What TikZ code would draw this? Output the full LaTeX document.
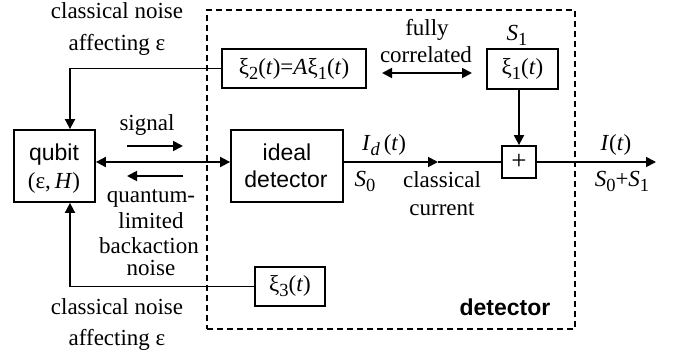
\documentclass[tikz,border=0pt]{standalone}
\usepackage{fontspec}
\setmainfont{Liberation Serif}
\setsansfont{Liberation Sans}
\usetikzlibrary{arrows.meta,calc}
% lowered, fairly large subscript
\newcommand{\lowsub}[1]{\raisebox{-0.22em}{\fontsize{18.5}{20}\selectfont #1}}
\begin{document}
\begin{tikzpicture}[x=1pt,y=-1pt,
  every node/.style={font=\fontsize{23}{26}\selectfont, inner sep=0pt},
  blk/.style={draw, line width=1.8pt, fill=white},
  lbl/.style={anchor=base},
  wire/.style={line width=1.8pt},
  arr/.style={wire, -{Triangle[length=10pt,width=10pt]}},
  darr/.style={wire, {Triangle[length=10pt,width=10pt]}-{Triangle[length=10pt,width=10pt]}}]
\useasboundingbox (0,0) rectangle (673,356);

% detector enclosure
\node[draw, dash pattern=on 6pt off 4pt, line width=1.3pt,
      minimum width=368pt, minimum height=319pt] (detbox) at (391,169.5) {};
\node[lbl, font=\fontsize{23}{26}\selectfont\sffamily\bfseries] (detlbl) at (505,315) {detector};

% blocks
\node[blk, minimum width=81pt, minimum height=72pt] (qubit) at (54.5,166) {};
\node[lbl, font=\fontsize{23}{26}\selectfont\sffamily] (qa) at (54,160) {qubit};
\node[lbl] (qb) at (54,188) {(ε,\,\textit{H})};

\node[blk, minimum width=112pt, minimum height=72pt] (det) at (287,166) {};
\node[lbl, font=\fontsize{23}{26}\selectfont\sffamily] (da) at (287,160) {ideal};
\node[lbl, font=\fontsize{23}{26}\selectfont\sffamily] (db) at (286,187) {detector};

\node[blk, minimum width=144pt, minimum height=39pt] (xi2) at (294,68.5)
  {ξ\lowsub{2}(\textit{t})=\textit{A}ξ\lowsub{1}(\textit{t})};
\node[blk, minimum width=71pt, minimum height=40pt] (xi1) at (522.5,69)
  {ξ\lowsub{1}(\textit{t})};
\node[blk, minimum width=70pt, minimum height=39pt] (xi3) at (290,286.5)
  {ξ\lowsub{3}(\textit{t})};
\node[blk, minimum width=34pt, minimum height=32pt,
      font=\fontsize{27}{28}\selectfont] (plus) at (519,162) {+};

% connectors
\coordinate (lineY) at (0,162);
\draw[darr] (qubit.east |- lineY) -- (det.west |- lineY);
\coordinate (mid) at (438,162);
\draw[arr] (det.east |- lineY) -- (mid);
\draw[wire] (mid) -- (plus.west);
\coordinate (out) at (656,162);
\draw[arr] (plus.east) -- (out);
\draw[arr] (xi1.south -| plus) -- (plus.north);
\draw[arr] (xi2.west) -| ([xshift=15.5pt]qubit.north);
\draw[arr] (xi3.west) -| ([xshift=15.5pt]qubit.south);

\coordinate (sigA) at (127,146); \coordinate (sigB) at (183,146);
\draw[arr] (sigA) -- (sigB);
\coordinate (bkA) at (183,176); \coordinate (bkB) at (127,176);
\draw[arr] (bkA) -- (bkB);
\coordinate (corA) at (382,73); \coordinate (corB) at (472,73);
\draw[darr] (corA) -- (corB);

% labels
\node[lbl] (t1) at (117,19) {classical noise};
\node[lbl] (t2) at (117,50) {affecting ε};
\node[lbl] (t3) at (117,314) {classical noise};
\node[lbl] (t4) at (117,345) {affecting ε};
\node[lbl] (sig) at (147,130) {signal};
\node[lbl] (q1) at (151,202) {quantum-};
\node[lbl] (q2) at (151,228) {limited};
\node[lbl] (q3) at (149,253) {backaction};
\node[lbl] (q4) at (151,275) {noise};
\node[lbl] (f1) at (427,35) {fully};
\node[lbl] (f2) at (426,63) {correlated};
\node[lbl] (s1) at (517,40) {\textit{S}\lowsub{1}};
\node[lbl] (id) at (384,150) {\textit{I}\lowsub{\textit{d}}\,(\textit{t})};
\node[lbl] (s0) at (365,186) {\textit{S}\lowsub{0}};
\node[lbl] (c1) at (442,187) {classical};
\node[lbl] (c2) at (442,215) {current};
\node[lbl] (it) at (616,150) {\textit{I}(\textit{t})};
\node[lbl] (ss) at (622,186) {\textit{S}\lowsub{0}+\textit{S}\lowsub{1}};
\end{tikzpicture}
\end{document}
